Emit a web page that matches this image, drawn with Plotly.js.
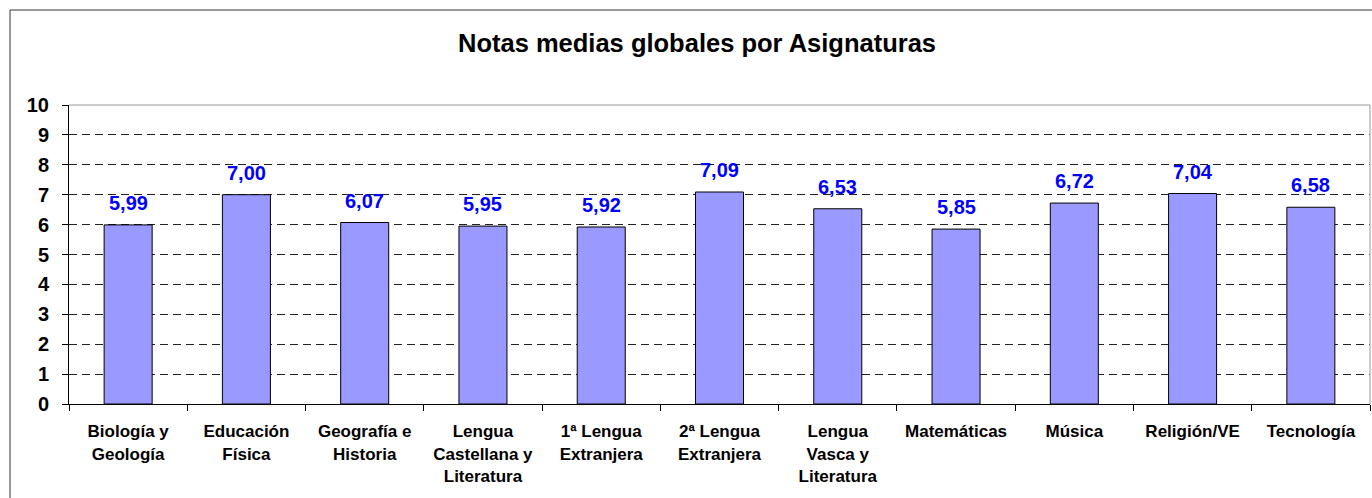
<!DOCTYPE html>
<html>
<head>
<meta charset="utf-8">
<script src="https://cdn.plot.ly/plotly-3.0.1.min.js"></script>
<style>
  body { margin: 0; background: #fff; }
  #chart { width: 1372px; height: 498px; }
</style>
</head>
<body>
<div id="chart"></div>
<script>
// subjects and their global average grades
const subjects = ["Biología y Geología", "Educación Física", "Geografía e Historia",
  "Lengua Castellana y Literatura", "1ª Lengua Extranjera", "2ª Lengua Extranjera",
  "Lengua Vasca y Literatura", "Matemáticas", "Música", "Religión/VE", "Tecnología"];
const tickLabels = ["Biología y<br>Geología", "Educación<br>Física", "Geografía e<br>Historia",
  "Lengua<br>Castellana y<br>Literatura", "1ª Lengua<br>Extranjera", "2ª Lengua<br>Extranjera",
  "Lengua<br>Vasca y<br>Literatura", "Matemáticas", "Música", "Religión/VE", "Tecnología"];
const grades = [5.99, 7.00, 6.07, 5.95, 5.92, 7.09, 6.53, 5.85, 6.72, 7.04, 6.58];

const FONT = "Arial, 'Liberation Sans', sans-serif";

let trace = {
  x: subjects,
  y: grades,
  type: "bar",
  marker: { color: "#9999FF", line: { color: "#000000", width: 1 } },
  hoverinfo: "none"
};

// value labels above each bar, decimal comma
let labels = subjects.map((s, i) => ({
  x: s, y: grades[i], xref: "x", yref: "y",
  text: grades[i].toFixed(2).replace(".", ","),
  showarrow: false, yanchor: "bottom", yshift: 9,
  font: { family: FONT, size: 20, color: "#0000FF", weight: "bold" }
}));

// plot area is 69..1370 px wide, 105..404 px tall
const pw = 1301, ph = 299;
let shapes = [
  // outer chart frame (right and bottom edges fall outside the picture)
  { type: "rect", xref: "paper", yref: "paper", layer: "below",
    x0: (10 - 69) / pw, x1: (1400 - 69) / pw, y0: (404 - 520) / ph, y1: (404 - 10) / ph,
    line: { color: "#333333", width: 1 } },
  // grey plot-area border on top and right
  { type: "line", xref: "paper", yref: "paper", x0: 0, x1: 1, y0: 1, y1: 1, layer: "above",
    line: { color: "#999999", width: 1 } },
  { type: "line", xref: "paper", yref: "paper", x0: 1, x1: 1, y0: 0, y1: 1, layer: "above",
    line: { color: "#999999", width: 1 } }
];

let layout = {
  width: 1372, height: 498,
  margin: { l: 69, r: 2, t: 105, b: 94 },
  paper_bgcolor: "#ffffff", plot_bgcolor: "#ffffff",
  separators: ",.",
  showlegend: false,
  bargap: 0.594,
  title: {
    text: "Notas medias globales por Asignaturas",
    font: { family: FONT, size: 25.5, color: "#000000", weight: "bold" },
    x: (697 - 69) / pw, xref: "paper", xanchor: "center",
    y: 1 - 43 / 498, yref: "container", yanchor: "middle"
  },
  xaxis: {
    tickmode: "array", tickvals: subjects, ticktext: tickLabels,
    ticks: "outside", tickson: "boundaries", ticklen: 6, tickcolor: "#000000",
    ticklabelstandoff: 12,
    showline: true, linecolor: "#000000", linewidth: 1,
    showgrid: false,
    tickfont: { family: FONT, size: 17, color: "#000000", weight: "bold" }
  },
  yaxis: {
    range: [0, 10], dtick: 1, tick0: 0,
    ticks: "outside", ticklen: 6, tickcolor: "#000000",
    ticklabelstandoff: 9,
    showline: true, linecolor: "#000000", linewidth: 1,
    zeroline: false,
    showgrid: true, gridcolor: "#222222", gridwidth: 1, griddash: "8px,5px",
    tickfont: { family: FONT, size: 20, color: "#000000", weight: "bold" }
  },
  annotations: labels,
  shapes: shapes
};

Plotly.newPlot("chart", [trace], layout, { displayModeBar: false, staticPlot: true });
</script>
</body>
</html>
